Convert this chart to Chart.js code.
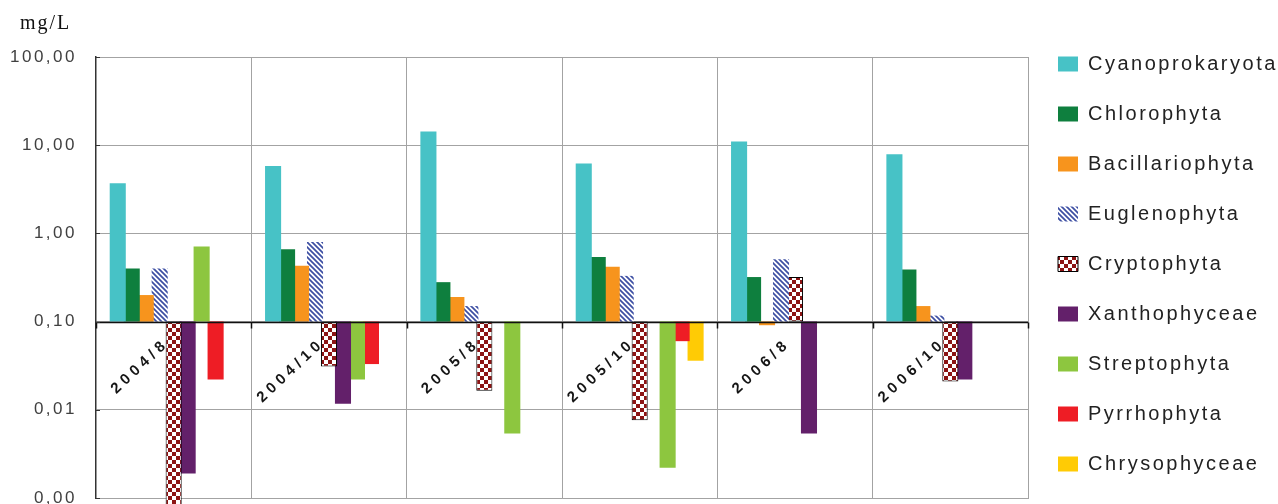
<!DOCTYPE html>
<html>
<head>
<meta charset="utf-8">
<script src="https://cdn.jsdelivr.net/npm/chart.js@4.4.1/dist/chart.umd.min.js"></script>
<style>
html,body{margin:0;padding:0;background:#fff;}
#wrap{width:1278px;height:504px;position:relative;}
</style>
</head>
<body>
<div id="wrap"><canvas id="c"></canvas></div>
<script>
// ---- data ----
const categories = ['2004/8', '2004/10', '2005/8', '2005/10', '2006/8', '2006/10'];
const seriesNames = ['Cyanoprokaryota', 'Chlorophyta', 'Bacillariophyta', 'Euglenophyta', 'Cryptophyta', 'Xanthophyceae', 'Streptophyta', 'Pyrrhophyta', 'Chrysophyceae'];
const cyanoprokaryota = [3.7, 5.8, 14.3, 6.2, 11.0, 7.9];
const chlorophyta     = [0.40, 0.66, 0.28, 0.54, 0.32, 0.39];
const bacillariophyta = [0.20, 0.43, 0.19, 0.42, 0.091, 0.15];
const euglenophyta    = [0.40, 0.80, 0.15, 0.33, 0.51, 0.117];
const cryptophyta     = [0.0008, 0.031, 0.0164, 0.0076, 0.32, 0.021];
const xanthophyceae   = [0.0019, 0.0117, null, null, 0.0054, 0.022];
const streptophyta    = [0.71, 0.022, 0.0054, 0.0022, null, null];
const pyrrhophyta     = [0.022, 0.033, null, 0.060, null, null];
const chrysophyceae   = [null, null, null, 0.036, null, null];
const baseValue = 0.1;
const yTickValues = [0.001, 0.01, 0.1, 1, 10, 100];
const yTickLabels = ['0,00', '0,01', '0,10', '1,00', '10,00', '100,00'];
const unitLabel = 'mg/L';

const seriesValues = [cyanoprokaryota, chlorophyta, bacillariophyta, euglenophyta, cryptophyta, xanthophyceae, streptophyta, pyrrhophyta, chrysophyceae];

// ---- styles ----
const FONT = "'Liberation Sans', Arial, sans-serif";
function hatchPattern(color) {
  const s = 5;
  const c = document.createElement('canvas'); c.width = s; c.height = s;
  const g = c.getContext('2d');
  g.fillStyle = '#fff'; g.fillRect(0, 0, s, s);
  g.strokeStyle = color; g.lineWidth = 1.7;
  g.beginPath();
  for (let k = -s; k <= s; k += s) { g.moveTo(k - 1, -1); g.lineTo(k + s + 1, s + 1); }
  g.stroke();
  return g.createPattern(c, 'repeat');
}
function checkerPattern(color) {
  const s = 4;
  const c = document.createElement('canvas'); c.width = 2 * s; c.height = 2 * s;
  const g = c.getContext('2d');
  g.fillStyle = '#fff'; g.fillRect(0, 0, 2 * s, 2 * s);
  g.fillStyle = color; g.fillRect(0, 0, s, s); g.fillRect(s, s, s, s);
  return g.createPattern(c, 'repeat');
}
const fills = ['#47C2C6', '#0E7F3E', '#F7941D', hatchPattern('#3D4FA3'), checkerPattern('#8C1414'), '#63206A', '#8DC63F', '#EE1D25', '#FFCB05'];

const SPACING = '2.5px';
const decor = {
  id: 'decor',
  beforeUpdate(chart) { chart.ctx.letterSpacing = SPACING; },
  beforeLayout(chart) { chart.ctx.letterSpacing = SPACING; },
  beforeDraw(chart) { chart.ctx.letterSpacing = SPACING; },
  afterDatasetsDraw(chart) {
    const { ctx, chartArea, scales: { x, y } } = chart;
    const yb = Math.round(y.getPixelForValue(baseValue)) + 0.5;
    const n = categories.length;
    ctx.save();
    ctx.strokeStyle = '#111'; ctx.lineWidth = 1.5;
    ctx.beginPath();
    ctx.moveTo(chartArea.left, yb); ctx.lineTo(chartArea.right, yb);
    for (let i = 0; i <= n; i++) {
      const px = Math.round(chartArea.left + i * chartArea.width / n) + 0.5;
      ctx.moveTo(px, yb); ctx.lineTo(px, yb + 6);
    }
    ctx.stroke();
    ctx.beginPath(); ctx.lineWidth = 1.2; ctx.strokeStyle = '#333';
    yTickValues.forEach(v => {
      const py = Math.round(y.getPixelForValue(v)) + 0.5;
      ctx.moveTo(chartArea.left, py); ctx.lineTo(chartArea.left + 4, py);
    });
    ctx.stroke();
    // category labels
    ctx.font = 'bold 15px ' + FONT;
    ctx.letterSpacing = '4.5px';
    ctx.fillStyle = '#151515';
    ctx.textAlign = 'right'; ctx.textBaseline = 'middle';
    categories.forEach((lab, i) => {
      const cx = x.getPixelForValue(i);
      ctx.save();
      ctx.translate(cx - 7, yb + 19);
      ctx.rotate(-43 * Math.PI / 180);
      ctx.fillText(lab, 0, 0);
      ctx.restore();
    });
    ctx.restore();
  },
  afterDraw(chart) {
    const ctx = chart.ctx;
    ctx.save();
    ctx.font = "20px 'Liberation Serif', 'Times New Roman', serif";
    ctx.letterSpacing = '2px';
    ctx.fillStyle = '#111';
    ctx.textAlign = 'left'; ctx.textBaseline = 'alphabetic';
    ctx.fillText(unitLabel, 20, 29);
    ctx.restore();
  }
};

new Chart(document.getElementById('c'), {
  type: 'bar',
  data: {
    labels: categories,
    datasets: seriesNames.map((name, k) => ({
      label: name,
      data: seriesValues[k].map(v => v == null ? null : [baseValue, v]),
      backgroundColor: fills[k],
      borderColor: '#000',
      borderWidth: k === 4 ? 1 : 0,
      borderSkipped: false,
      categoryPercentage: 0.81,
      barPercentage: 1.15,
      clip: k === 4 ? false : undefined
    }))
  },
  options: {
    responsive: true,
    maintainAspectRatio: false,
    animation: false,
    devicePixelRatio: 1,
    layout: { padding: { top: 24, bottom: 0, left: 0, right: 0 } },
    plugins: {
      legend: {
        position: 'right', align: 'start', maxWidth: 250,
        labels: { boxWidth: 20, boxHeight: 15, padding: 30, color: '#222', font: { family: FONT, size: 20 } }
      },
      tooltip: { enabled: false },
      title: { display: false }
    },
    scales: {
      x: {
        type: 'category',
        grid: { color: '#a3a3a3', lineWidth: 1, drawTicks: false, offset: true },
        border: { color: '#a3a3a3' },
        ticks: { display: false },
        afterFit(s) { s.height = 6; }
      },
      y: {
        type: 'logarithmic', min: 0.001, max: 100,
        grid: { color: '#a3a3a3', lineWidth: 1, drawTicks: false },
        border: { color: '#333', width: 1.5 },
        ticks: {
          padding: 19, color: '#404040', font: { family: FONT, size: 17 },
          callback: (v, i) => yTickLabels[i] ?? ''
        },
        afterBuildTicks(s) { s.ticks = yTickValues.map(v => ({ value: v })); },
        afterFit(s) { s.width = 96; s.paddingTop = 57; s.paddingBottom = 0; }
      }
    }
  },
  plugins: [decor]
});
</script>
</body>
</html>
